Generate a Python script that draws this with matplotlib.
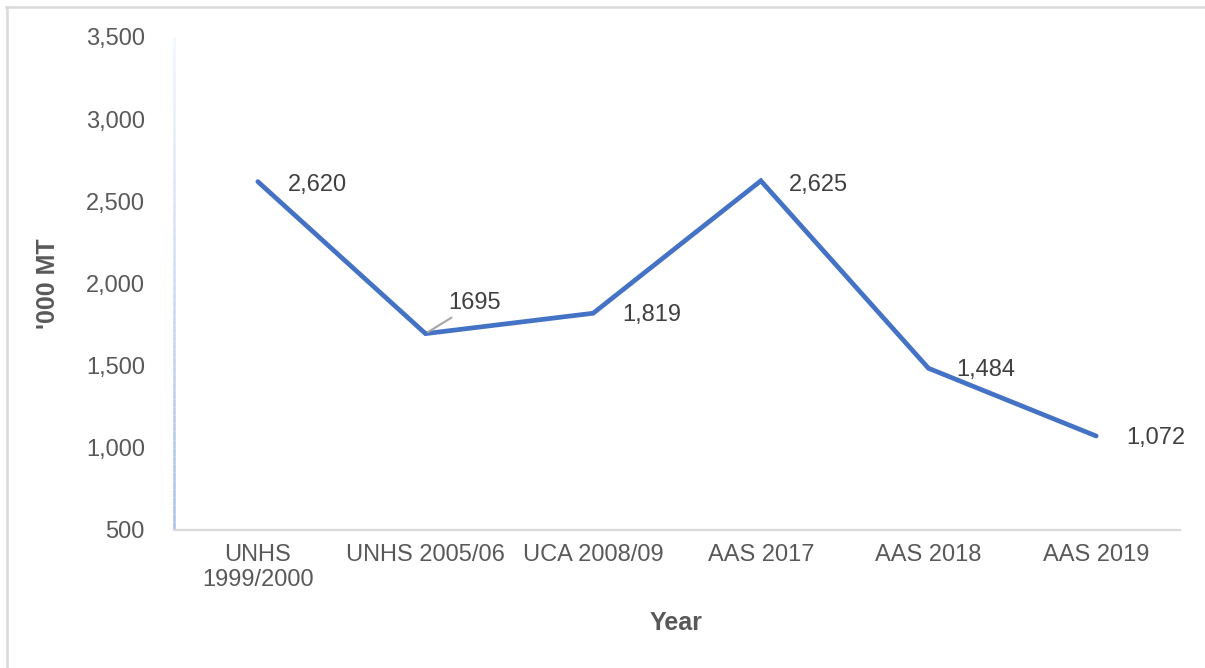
import numpy as np
from matplotlib import pyplot as plt
from matplotlib.collections import LineCollection
from matplotlib.lines import Line2D

# survey rounds and production ('000 MT)
categories = ["UNHS\n1999/2000", "UNHS 2005/06", "UCA 2008/09", "AAS 2017", "AAS 2018", "AAS 2019"]
values = [2620, 1695, 1819, 2625, 1484, 1072]
value_labels = ["2,620", "1695", "1,819", "2,625", "1,484", "1,072"]
yticks = [500, 1000, 1500, 2000, 2500, 3000, 3500]

plt.rcParams['font.family'] = ['Liberation Sans', 'DejaVu Sans']

fig = plt.figure(figsize=(12.05, 6.68), dpi=100)
ax = fig.add_axes([174/1205, 1 - 530/668, (1180 - 174)/1205, (530 - 37)/668])

x = np.arange(len(categories))
ax.plot(x, values, color='#4472C4', linewidth=3.4, solid_capstyle='round', solid_joinstyle='miter', zorder=3)

# data labels: (dx, dy) offsets in pixels
offsets = [(30, -3), (23, 31), (29, -2), (28, -4), (28, -2), (30, -2)]
for xi, v, lab, off in zip(x, values, value_labels, offsets):
    ax.annotate(lab, (xi, v), xytext=off, textcoords='offset pixels',
                ha='left', va='center', fontsize=17, color='#404040', zorder=4)

# leader line for the 1695 label
ax.annotate("", (x[1], values[1]), xytext=(26, 16), textcoords='offset pixels',
            arrowprops=dict(arrowstyle='-', color='#a6a6a6', lw=1.5, shrinkA=0, shrinkB=2))

ax.set_xlim(-0.5, len(categories) - 0.5)
ax.set_ylim(500, 3500)
ax.set_yticks(yticks)
ax.set_yticklabels([f"{t:,}" for t in yticks])
ax.set_xticks(x)
ax.set_xticklabels(categories)
ax.tick_params(axis='y', length=0, pad=21, labelsize=17, labelcolor='#595959')
ax.tick_params(axis='x', length=0, pad=10, labelsize=17, labelcolor='#595959')

for s in ['top', 'right', 'left']:
    ax.spines[s].set_visible(False)
ax.spines['bottom'].set_color('#d9d9d9')
ax.spines['bottom'].set_linewidth(1.6)

# gradient y axis line
n = 60
ys = np.linspace(0, 1, n + 1)
segs = [[(0, ys[i]), (0, ys[i + 1])] for i in range(n)]
c_bot = np.array([0.66, 0.75, 0.90])
c_top = np.array([0.95, 0.97, 0.99])
cols = [c_bot + (c_top - c_bot) * (ys[i] + ys[i + 1]) / 2 for i in range(n)]
lc = LineCollection(segs, colors=cols, linewidths=1.8, transform=ax.transAxes, clip_on=False)
ax.add_collection(lc)

ax.set_ylabel("'000 MT", fontsize=18, fontweight='bold', color='#595959')
ax.yaxis.set_label_coords(-(174 - 60)/1006, 0.5)
ax.set_xlabel("Year", fontsize=18, fontweight='bold', color='#595959')
ax.xaxis.set_label_coords((676 - 174)/1006, -(611 - 530)/493)

# outer chart border (only top and left visible)
fig.add_artist(Line2D([6/1205, 1], [1 - 6.5/668, 1 - 6.5/668], color='#d9d9d9', lw=1.8, transform=fig.transFigure))
fig.add_artist(Line2D([6.5/1205, 6.5/1205], [0, 1 - 6.5/668], color='#d9d9d9', lw=1.8, transform=fig.transFigure))

fig.savefig("out.png", dpi=100)
